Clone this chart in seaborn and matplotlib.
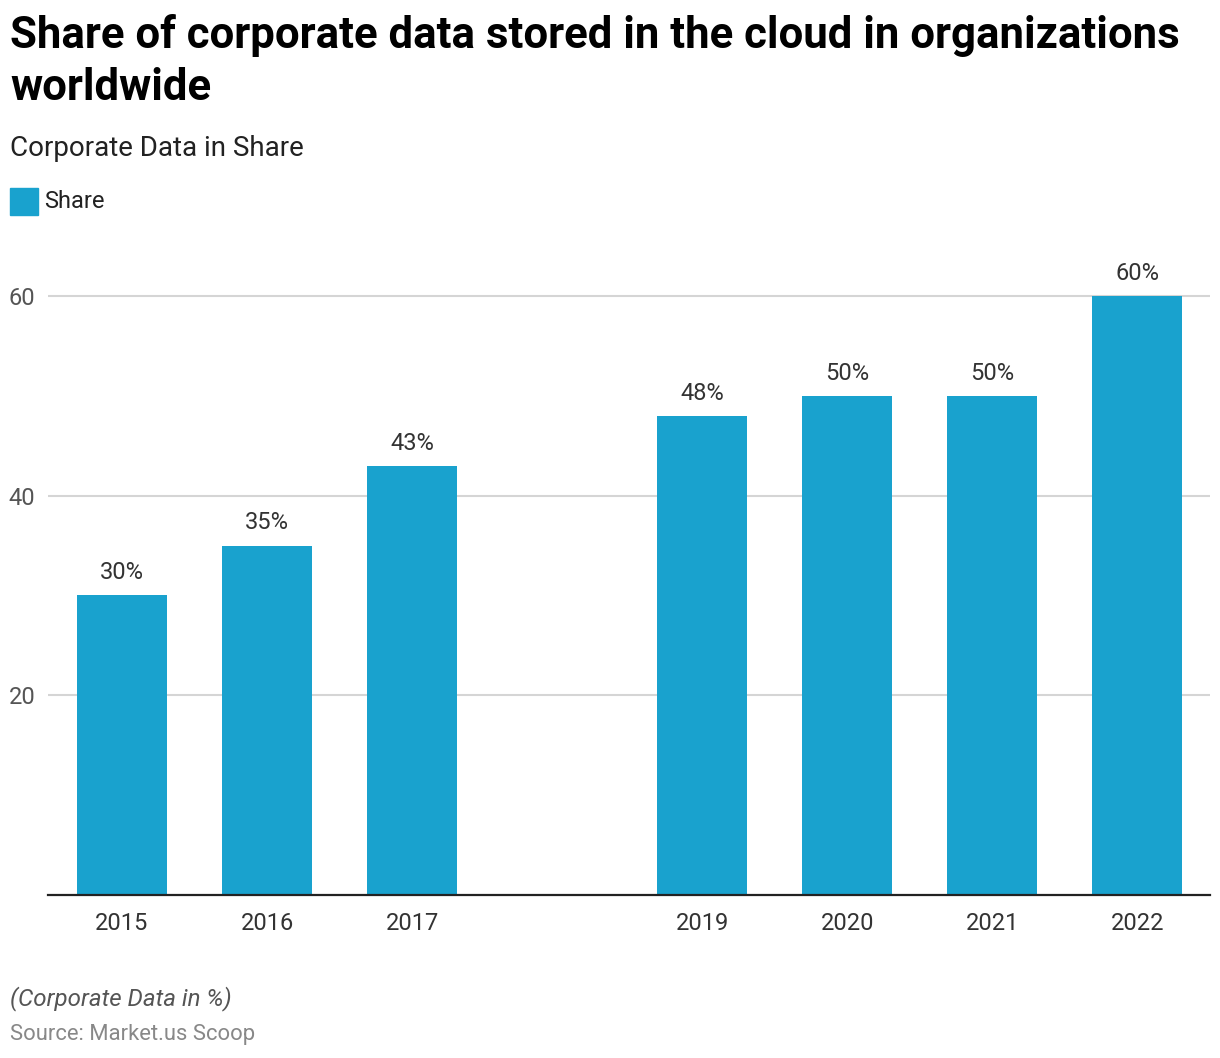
import matplotlib
matplotlib.use("Agg")
import matplotlib.pyplot as plt
import seaborn as sns
import pandas as pd

years = [2015, 2016, 2017, 2019, 2020, 2021, 2022]
share = [30, 35, 43, 48, 50, 50, 60]
labels = ["30%", "35%", "43%", "48%", "50%", "50%", "60%"]
y_ticks = [20, 40, 60]

title_line1 = "Share of corporate data stored in the cloud in organizations"
title_line2 = "worldwide"
subtitle = "Corporate Data in Share"
legend_label = "Share"
footnote = "(Corporate Data in %)"
source = "Source: Market.us Scoop"

BAR = "#19A2CE"

sns.set_theme(style="white")
plt.rcParams["font.family"] = ["Roboto", "DejaVu Sans"]

W, H = 1220, 1058
fig = plt.figure(figsize=(W / 100, H / 100), dpi=100)
ax = fig.add_axes([48 / W, 1 - 895 / H, (1210 - 48) / W, (895 - 256) / H])

df = pd.DataFrame({"year": years, "share": share})
sns.barplot(data=df, x="year", y="share", native_scale=True, width=0.62,
            color=BAR, saturation=1, linewidth=0, ax=ax, zorder=3)

ax.set_xlim(2014.49, 2022.5)
ax.set_ylim(0, 64)
ax.set_xticks(years)
ax.set_xticklabels([str(y) for y in years])
ax.set_yticks(y_ticks)
ax.set_yticklabels([str(v) for v in y_ticks])
ax.set_xlabel("")
ax.set_ylabel("")
ax.grid(axis="y", color="#D5D5D5", linewidth=1.5, zorder=0)
ax.grid(axis="x", visible=False)
for s in ["left", "right", "top"]:
    ax.spines[s].set_visible(False)
ax.spines["bottom"].set_color("#222222")
ax.spines["bottom"].set_linewidth(1.6)
ax.spines["bottom"].set_zorder(4)
ax.tick_params(axis="x", length=0, pad=12.5, labelsize=17, labelcolor="#333333")
ax.tick_params(axis="y", length=0, pad=9, labelsize=17, labelcolor="#555555")

for x, v, t in zip(years, share, labels):
    ax.annotate(t, (x, v), xytext=(0, 8), textcoords="offset points",
                ha="center", va="bottom", fontsize=17, color="#333333")

def ftext(x, y, s, **kw):
    fig.text(x / W, 1 - y / H, s, va="baseline", ha="left", **kw)

ftext(10, 48, title_line1, fontsize=31.5, fontweight="bold", color="#000000")
ftext(10, 100, title_line2, fontsize=31.5, fontweight="bold", color="#000000")
ftext(10, 156, subtitle, fontsize=20, color="#222222")
fig.patches.append(plt.Rectangle((10 / W, 1 - 215 / H), 28 / W, 27 / H,
                                 transform=fig.transFigure, color=BAR))
ftext(44, 208, legend_label, fontsize=17, color="#222222")
ftext(10, 1005, footnote, fontsize=17.4, fontstyle="italic", color="#555555")
ftext(10, 1040, source, fontsize=15.8, color="#888888")

fig.savefig("out.png", dpi=100)
